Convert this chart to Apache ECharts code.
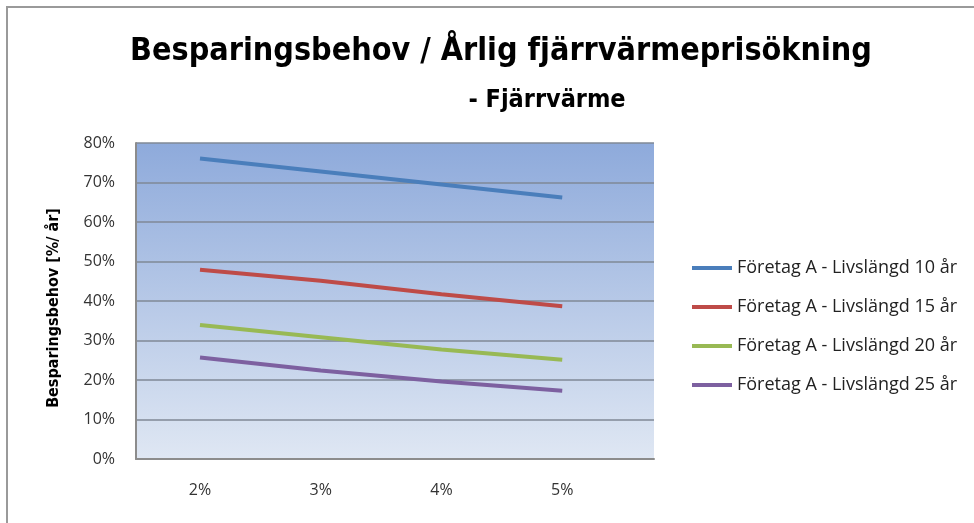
<!DOCTYPE html>
<html>
<head>
<meta charset="utf-8">
<script src="https://cdn.jsdelivr.net/npm/echarts@6/dist/echarts.min.js"></script>
<style>
    html, body { margin: 0; padding: 0; background: #fff; }
    #chart { width: 974px; height: 523px; }
</style>
</head>
<body>
<div id="chart"></div>
<script>
// årlig prisökning (x) och besparingsbehov (y, %)
var xValues = [2, 3, 4, 5];
var xTickLabels = ['2%', '3%', '4%', '5%'];
var yTicks = [0, 10, 20, 30, 40, 50, 60, 70, 80];

var seriesNames = [
    'Företag A - Livslängd 10 år',
    'Företag A - Livslängd 15 år',
    'Företag A - Livslängd 20 år',
    'Företag A - Livslängd 25 år'
];
var livslangd10 = [76.1, 72.8, 69.5, 66.2];
var livslangd15 = [47.9, 45.1, 41.7, 38.7];
var livslangd20 = [33.9, 30.8, 27.7, 25.1];
var livslangd25 = [25.7, 22.4, 19.6, 17.3];
var seriesValues = [livslangd10, livslangd15, livslangd20, livslangd25];
var seriesColors = ['#4a7ebb', '#be4b48', '#98b954', '#7d60a0'];

var font = 'Open Sans';
var myChart = echarts.init(document.getElementById('chart'));

var series = seriesNames.map(function (name, i) {
    return {
        name: name,
        type: 'line',
        symbol: 'none',
        smooth: false,
        lineStyle: { color: seriesColors[i], width: 4 },
        itemStyle: { color: seriesColors[i] },
        data: xValues.map(function (x, j) { return [x, seriesValues[i][j]]; })
    };
});

var option = {
    animation: false,
    textStyle: { fontFamily: font },
    graphic: [{
        type: 'rect',
        shape: { x: 7, y: 7, width: 1000, height: 600 },
        style: { fill: 'none', stroke: '#9a9a9a', lineWidth: 2 },
        silent: true
    }],
    title: [{
        text: 'Besparingsbehov / Årlig fjärrvärmeprisökning',
        left: 496,
        top: 31,
        textAlign: 'center',
        textStyle: { fontFamily: 'DejaVu Sans Condensed', fontWeight: 'bold', fontSize: 32, color: '#000' }
    }, {
        text: '- Fjärrvärme',
        left: 542,
        top: 83,
        textAlign: 'center',
        textStyle: { fontFamily: 'DejaVu Sans Condensed', fontWeight: 'bold', fontSize: 25, color: '#000' }
    }],
    legend: {
        orient: 'vertical',
        left: 687,
        top: 254,
        itemWidth: 40,
        itemHeight: 4,
        itemGap: 21,
        icon: 'rect',
        data: seriesNames,
        textStyle: { fontFamily: font, fontSize: 18, color: '#222' }
    },
    grid: {
        left: 136,
        right: 320,
        top: 143,
        bottom: 64,
        show: true,
        borderWidth: 0,
        backgroundColor: new echarts.graphic.LinearGradient(0, 0, 0, 1, [
            { offset: 0, color: '#8eaadb' },
            { offset: 1, color: '#dfe7f3' }
        ])
    },
    xAxis: {
        type: 'value',
        min: 1.47,
        max: 5.76,
        axisLine: { show: true, lineStyle: { color: '#8c8c8c', width: 2 } },
        axisTick: { show: false },
        splitLine: { show: false },
        axisLabel: {
            customValues: xValues,
            formatter: function (v) { return xTickLabels[xValues.indexOf(v)]; },
            fontSize: 16,
            color: '#333',
            margin: 23
        }
    },
    yAxis: {
        type: 'value',
        min: yTicks[0],
        max: yTicks[yTicks.length - 1],
        interval: 10,
        name: 'Besparingsbehov [%/ år]',
        nameLocation: 'middle',
        nameGap: 74,
        nameTextStyle: { fontFamily: 'DejaVu Sans Condensed', fontWeight: 'bold', fontSize: 16, color: '#000', padding: [0, 14, 0, 0] },
        axisLine: { show: true, lineStyle: { color: '#8c8c8c', width: 2 } },
        axisTick: { show: false },
        axisLabel: { formatter: '{value}%', fontSize: 16, color: '#333', margin: 21 },
        splitLine: { lineStyle: { color: '#7f8896', width: 1.5 } }
    },
    series: series
};
myChart.setOption(option);
window.addEventListener('resize', function () {
    myChart.resize();
});
</script>
</body>
</html>
